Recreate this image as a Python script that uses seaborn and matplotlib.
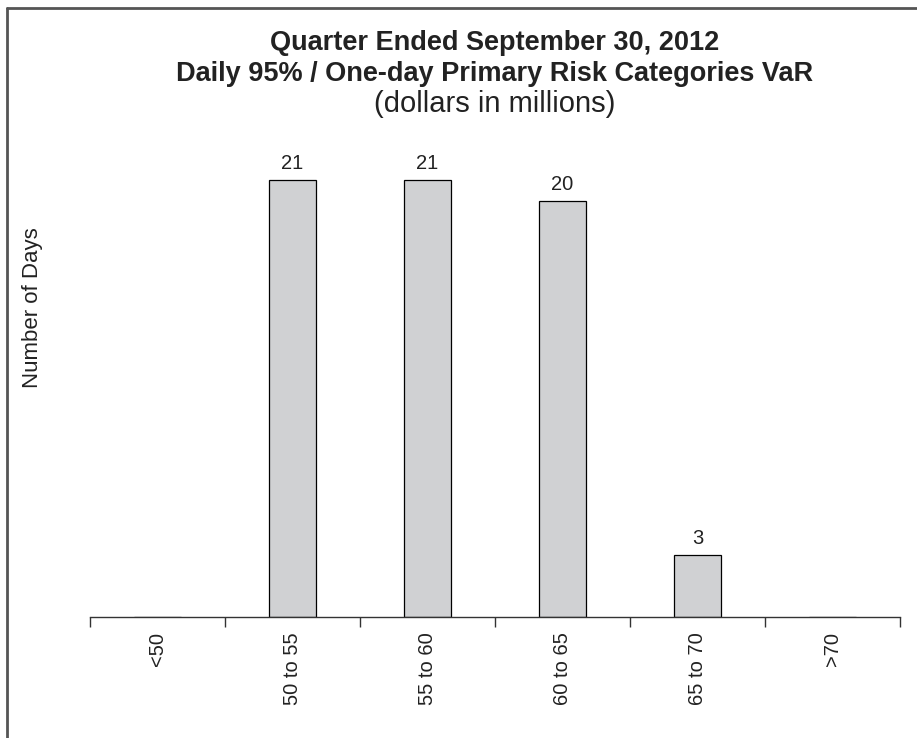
import matplotlib
matplotlib.use("Agg")
import matplotlib.pyplot as plt
import seaborn as sns
import pandas as pd
from matplotlib.lines import Line2D

# data
categories = ['<50', '50 to 55', '55 to 60', '60 to 65', '65 to 70', '>70']
days = [0, 21, 21, 20, 3, 0]

df = pd.DataFrame({'range': categories, 'days': days})

sns.set_style('white')
plt.rcParams['font.family'] = ['Liberation Sans', 'DejaVu Sans']

fig = plt.figure(figsize=(9.17, 7.38), dpi=100)
ax = fig.add_axes([90 / 917, 0.164, 810 / 917, 0.7046])

sns.barplot(data=df, x='range', y='days', order=categories, color='#d0d1d3',
            edgecolor='black', linewidth=0.9, width=0.355, saturation=1, ax=ax)

ax.set_xlim(-0.5, len(categories) - 0.5)
ax.set_ylim(0, 25)

# value labels, skip empty bins
labels = [str(v) if v > 0 else '' for v in days]
ax.bar_label(ax.containers[0], labels=labels, padding=5, fontsize=14.5,
             color='#222222')

# spines / ticks
for s in ['top', 'right', 'left']:
    ax.spines[s].set_visible(False)
ax.spines['bottom'].set_color('#333333')
ax.spines['bottom'].set_linewidth(1.0)
ax.set_yticks([])
ax.set_xticks(range(len(categories)))
ax.set_xticklabels(categories, rotation=90, fontsize=14.5, va='top',
                   color='#222222')
ax.set_xticks([i - 0.5 for i in range(len(categories) + 1)], minor=True)
ax.tick_params(axis='x', which='major', length=0, pad=11)
ax.tick_params(axis='x', which='minor', length=7, width=1.0, color='#333333',
               direction='out', bottom=True)

ax.set_xlabel('')
ax.set_ylabel('')
fig.text(33 / 917, 1 - 308 / 738, 'Number of Days', rotation=90,
         ha='center', va='center', fontsize=16, color='#222222')

# titles
cx = (90 + 900) / 2 / 917
fig.text(cx, 1 - 43 / 738, 'Quarter Ended September 30, 2012', ha='center',
         va='center', fontsize=19.5, fontweight='bold', color='#222222')
fig.text(cx, 1 - 74 / 738, 'Daily 95% / One-day Primary Risk Categories VaR',
         ha='center', va='center', fontsize=19.5, fontweight='bold',
         color='#222222')
fig.text(cx, 1 - 104 / 738, '(dollars in millions)', ha='center',
         va='center', fontsize=21, color='#222222')

# frame lines (top and left only)
fig.add_artist(Line2D([7 / 917, 1], [1 - 8 / 738, 1 - 8 / 738],
                      transform=fig.transFigure, color='#555555', lw=2))
fig.add_artist(Line2D([7 / 917, 7 / 917], [0, 1 - 8 / 738],
                      transform=fig.transFigure, color='#555555', lw=2))

fig.savefig('out.png', dpi=100, facecolor='white')
